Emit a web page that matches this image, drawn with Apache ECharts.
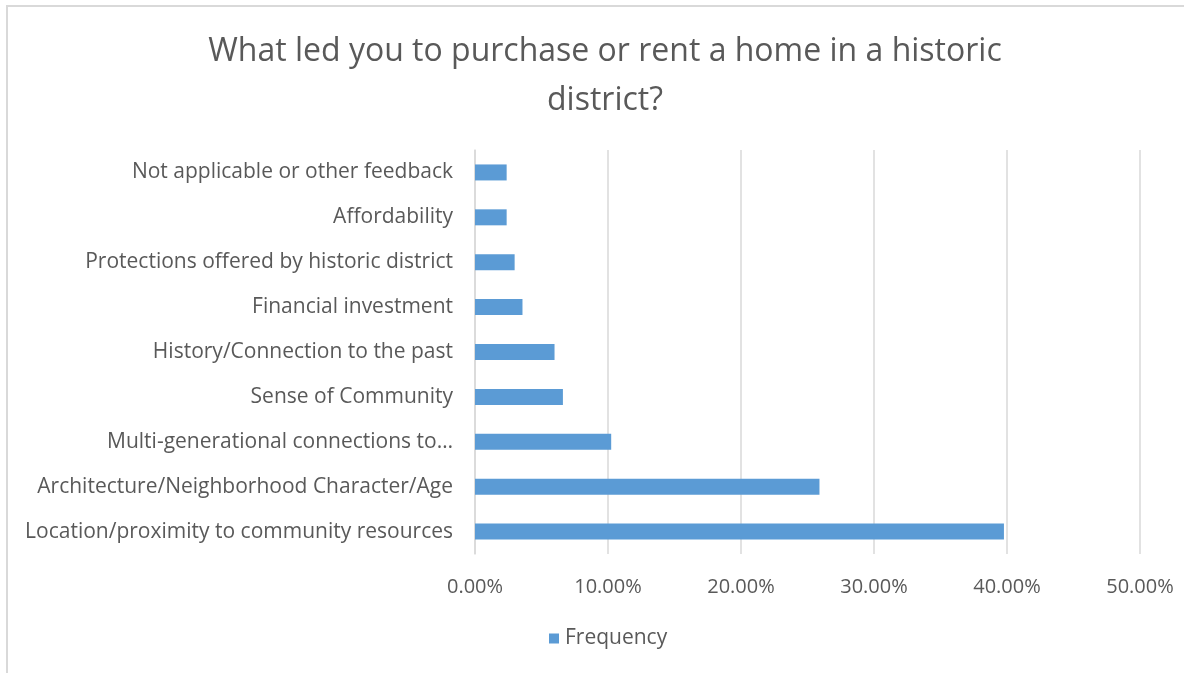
<!DOCTYPE html>
<html>
<head>
<meta charset="utf-8">
<style>
  html, body { margin: 0; padding: 0; background: #fff; overflow: hidden; }
  #frame { position: absolute; left: 6px; top: 5px; width: 1300px; height: 800px;
           border-left: 2px solid #d9d9d9; border-top: 2px solid #d9d9d9; }
  #main { position: absolute; left: 0; top: 0; width: 1200px; height: 673px; }
</style>
<script src="https://cdn.jsdelivr.net/npm/echarts@6/dist/echarts.min.js"></script>
</head>
<body>
<div id="frame"></div>
<div id="main"></div>
<script>
// categories top to bottom, as in the picture
const categories = [
  'Not applicable or other feedback',
  'Affordability',
  'Protections offered by historic district',
  'Financial investment',
  'History/Connection to the past',
  'Sense of Community',
  'Multi-generational connections to…',
  'Architecture/Neighborhood Character/Age',
  'Location/proximity to community resources'
]
const frequency = [0.0238, 0.0238, 0.0298, 0.0357, 0.0598, 0.0661, 0.1024, 0.2590, 0.3977]
const seriesName = 'Frequency'
const titleText = 'What led you to purchase or rent a home in a historic\ndistrict?'

const fontFamily = '"Open Sans", sans-serif'
const textColor = '#595959'

const chart = echarts.init(document.getElementById('main'))
chart.setOption({
  animation: false,
  title: {
    text: titleText,
    left: 600,
    top: 22,
    textAlign: 'center',
    textStyle: {
      fontFamily: fontFamily,
      fontSize: 32,
      fontWeight: 'normal',
      color: textColor,
      lineHeight: 49
    }
  },
  legend: {
    data: [seriesName],
    bottom: 19,
    left: 544,
    icon: 'rect',
    itemWidth: 10,
    itemHeight: 10,
    itemGap: 8,
    textStyle: { fontFamily: fontFamily, fontSize: 21, color: textColor, padding: [0, 0, 0, 1] }
  },
  grid: {
    left: 475,
    right: 60,
    top: 150,
    bottom: 119,
    containLabel: false
  },
  xAxis: {
    type: 'value',
    min: 0,
    max: 0.5,
    interval: 0.1,
    axisLine: { show: false },
    axisTick: { show: false },
    splitLine: { lineStyle: { color: '#d9d9d9', width: 1.5 } },
    axisLabel: {
      margin: 23,
      fontFamily: fontFamily,
      fontSize: 20,
      color: textColor,
      formatter: v => (v * 100).toFixed(2) + '%'
    }
  },
  yAxis: {
    type: 'category',
    inverse: true,
    data: categories,
    axisLine: { show: true, lineStyle: { color: '#d9d9d9', width: 1.5 } },
    axisTick: { show: false },
    axisLabel: {
      margin: 22,
      fontFamily: fontFamily,
      fontSize: 21,
      color: textColor,
      padding: [4, 0, 0, 0]
    }
  },
  series: [
    {
      name: seriesName,
      type: 'bar',
      data: frequency,
      barWidth: 16,
      itemStyle: { color: '#5b9bd5' }
    }
  ]
})
</script>
</body>
</html>
